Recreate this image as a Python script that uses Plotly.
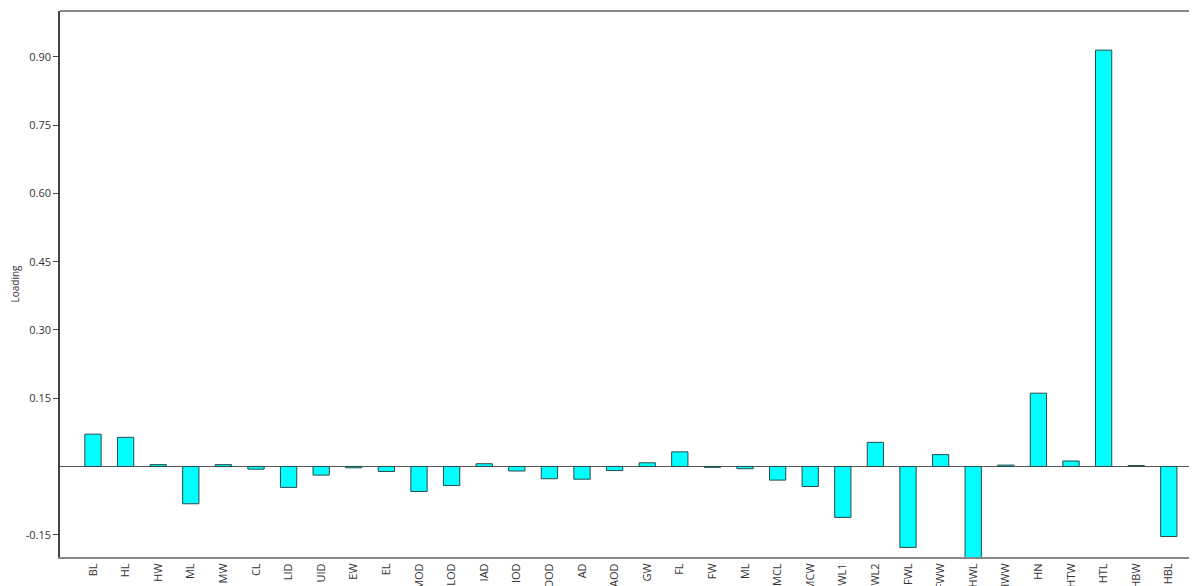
import plotly.graph_objects as go

categories = ["BL", "HL", "HW", "ML", "MW", "CL", "LID", "UID", "EW", "EL", "MOD", "LOD",
              "IAD", "IOD", "OOD", "AD", "AOD", "GW", "FL", "FW", "ML", "MCL", "MCW",
              "WL1", "WL2", "FWL", "FWW", "HWL", "HWW", "HN", "HTW", "HTL", "HBW", "HBL"]
loadings = [0.071, 0.064, 0.004, -0.082, 0.004, -0.006, -0.046, -0.019, -0.003, -0.011,
            -0.055, -0.042, 0.006, -0.010, -0.027, -0.028, -0.009, 0.008, 0.032, -0.002,
            -0.005, -0.030, -0.044, -0.112, 0.053, -0.178, 0.026, -0.21, 0.003, 0.161,
            0.012, 0.915, 0.002, -0.154]
y_ticks = [-0.15, 0.15, 0.30, 0.45, 0.60, 0.75, 0.90]
y_tick_text = ["-0.15", "0.15", "0.30", "0.45", "0.60", "0.75", "0.90"]

xs = list(range(len(categories)))

fig = go.Figure(go.Bar(
    x=xs, y=loadings, width=0.5,
    marker=dict(color="#00FFFF", line=dict(color="#2a4a4a", width=1)),
))

font = "Open Sans, Noto Sans, sans-serif"
fig.update_layout(
    width=1197, height=586,
    margin=dict(l=52, r=0, t=3, b=37),
    plot_bgcolor="white", paper_bgcolor="white",
    showlegend=False,
    font=dict(family=font, size=11, color="#333"),
    xaxis=dict(
        range=[-1.012, 34.11], tickvals=xs, ticktext=categories, tickangle=-90,
        showgrid=False, zeroline=False, showline=True, linecolor="#888", linewidth=2,
        mirror=False, ticks="", tickfont=dict(size=11, color="#333"),
        automargin=False,
    ),
    yaxis=dict(
        range=[-0.199, 1.001], tickvals=y_ticks, ticktext=y_tick_text,
        showgrid=False, zeroline=True, zerolinecolor="#555", zerolinewidth=1,
        showline=True, linecolor="#444", linewidth=1.5,
        ticks="outside", ticklen=5, tickcolor="#444",
        tickfont=dict(size=11, color="#333"),
        title=dict(text="Loading", font=dict(size=10, color="#333"), standoff=12),
        automargin=False,
    ),
)
# top border
fig.add_shape(type="line", xref="paper", yref="paper", x0=0, x1=1, y0=1, y1=1,
              line=dict(color="#888", width=2))

fig.write_html("out.html")
